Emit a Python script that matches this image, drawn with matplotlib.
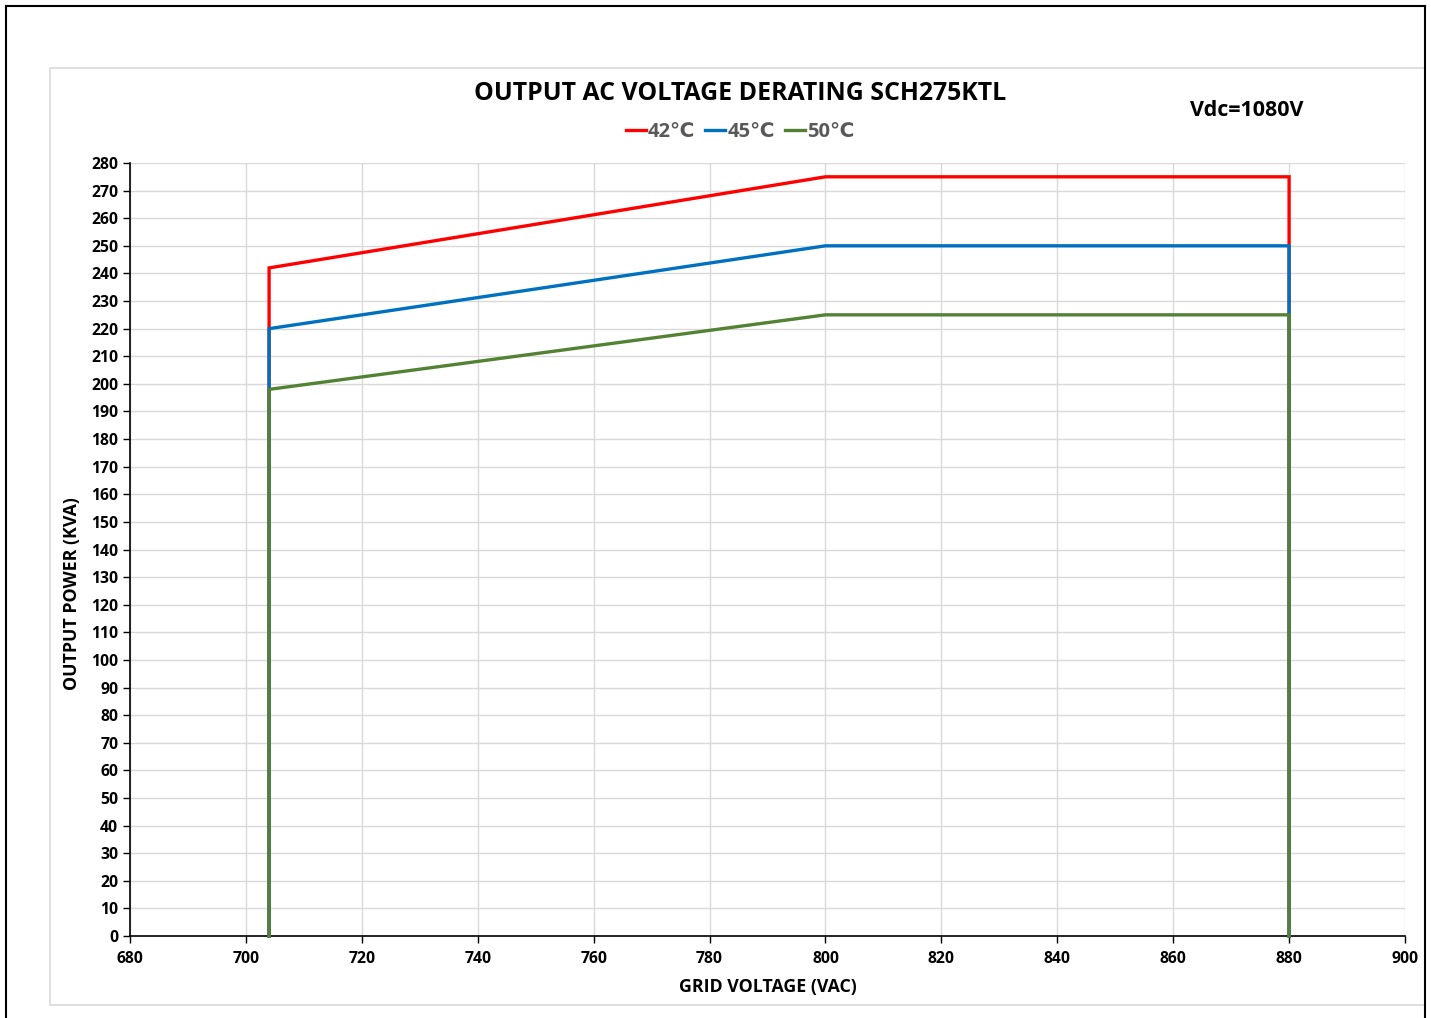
import matplotlib
matplotlib.use("Agg")
import matplotlib.pyplot as plt
from matplotlib.patches import Rectangle
from matplotlib.lines import Line2D

plt.rcParams['font.family'] = ['Open Sans', 'DejaVu Sans']
plt.rcParams['font.weight'] = 'bold'

voltage = [704, 704, 800, 880, 880]
p42 = [0, 242, 275, 275, 0]
p45 = [0, 220, 250, 250, 0]
p50 = [0, 198, 225, 225, 0]
series = [("42℃", p42, "#ff0000"), ("45℃", p45, "#0070c0"), ("50℃", p50, "#548235")]
xticks = list(range(680, 901, 20))
yticks = list(range(0, 281, 10))

W, H = 1431, 1018
fig = plt.figure(figsize=(W/100, H/100), dpi=100)
# outer black frame
fig.add_artist(Line2D([6/W, 1425/W], [1-6/H, 1-6/H], color='black', lw=1.5, transform=fig.transFigure))
fig.add_artist(Line2D([6/W, 6/W], [0, 1-6/H], color='black', lw=1.5, transform=fig.transFigure))
fig.add_artist(Line2D([1425/W, 1425/W], [0, 1-6/H], color='black', lw=1.5, transform=fig.transFigure))
# inner gray chart border
fig.add_artist(Rectangle((50/W, 1-1005/H), (1425-50)/W, (1005-68)/H, fill=False,
                         edgecolor='#d9d9d9', lw=1.2, transform=fig.transFigure))

ax = fig.add_axes([130/W, 1-936/H, (1405-130)/W, (936-163)/H])
for label, vals, c in series:
    ax.plot(voltage, vals, color=c, lw=2.4, label=label, solid_joinstyle='miter', clip_on=False, zorder=3)

ax.set_xlim(680, 900)
ax.set_ylim(0, 280)
ax.set_xticks(xticks)
ax.set_yticks(yticks)
ax.grid(True, color='#d9d9d9', lw=1)
ax.set_axisbelow(True)
for s in ['top', 'right']:
    ax.spines[s].set_visible(False)
for s in ['left', 'bottom']:
    ax.spines[s].set_color('black')
    ax.spines[s].set_linewidth(1.2)
ax.tick_params(axis='both', direction='out', length=5, width=1, labelsize=11.3, colors='black')
for lab in ax.get_xticklabels() + ax.get_yticklabels():
    lab.set_fontweight('bold')
ax.tick_params(axis='x', pad=6)

ax.set_xlabel("GRID VOLTAGE (VAC)", fontsize=12.8, fontweight='bold', labelpad=8)
fig.text(72/W, 1-594/H, "OUTPUT POWER (KVA)", rotation=90, ha='center', va='center',
         fontsize=12.8, fontweight='bold')

fig.text(740/W, 1-94/H, "OUTPUT AC VOLTAGE DERATING SCH275KTL", ha='center', va='center',
         fontsize=17.9, fontweight='bold')
fig.text(1247/W, 1-110/H, "Vdc=1080V", ha='center', va='center', fontsize=15.5, fontweight='bold')

leg = fig.legend(loc='center', bbox_to_anchor=(740/W, 1-132/H), ncol=3, frameon=False,
                 handlelength=1.0, handletextpad=0.1, columnspacing=0.5,
                 prop={'size': 14.5, 'weight': 'bold'})
for t in leg.get_texts():
    t.set_color('#595959')

fig.savefig("out.png", dpi=100)
